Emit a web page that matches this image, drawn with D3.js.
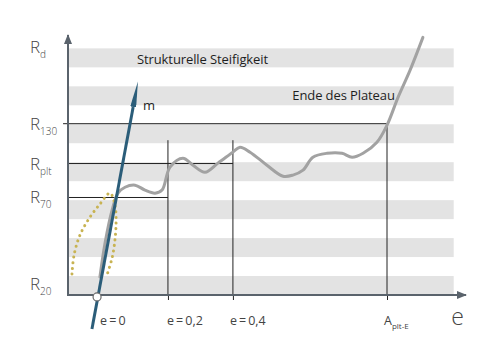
<!DOCTYPE html>
<html>
<head>
<meta charset="utf-8">
<script src="https://cdn.jsdelivr.net/npm/d3@7"></script>
<style>
  body { margin: 0; background: #fff; }
  svg { display: block; }
</style>
</head>
<body>
<svg></svg>
<script>
// grey bands (lower edge, in band units)
const bands = [0, 2, 4, 6, 8, 10, 12];

// y labels: name, subscript, level
const yLabels = ['R', 'R', 'R', 'R', 'R'];
const ySubs = ['d', '130', 'plt', '70', '20'];
const yLevels = [13.05, 9.03, 6.93, 5.14, 0.58];

// x ticks: label, subscript, position
const xLabels = ['e=0', 'e=0,2', 'e=0,4', 'A'];
const xSubs = ['', '', '', 'plt-E'];
const xPos = [1.53, 5.26, 8.68, 16.79];

// reference lines: R_130 to A, R_plt to e=0,4, R_70 to e=0,2
const hLevels = [9.03, 6.93, 5.14];
const hStart = [-0.26, 0, 0];
const hEnd = [16.79, 8.68, 5.26];
// verticals at e=0,2, e=0,4, A
const vPos = [5.26, 8.68, 16.79];
const vTop = [8.16, 8.16, 9.03];

// grey load curve
const curveX = [1.68, 1.95, 2.32, 2.63, 3.0, 3.53, 4.05, 4.58, 4.95, 5.37, 6.05, 6.58, 7.21, 7.89, 8.68, 9.05, 9.58, 10.47, 11.32, 11.84, 12.37, 12.89, 13.63, 14.42, 14.95, 15.53, 16.26, 16.79, 17.37, 18.0, 18.68];
const curveY = [0.95, 2.74, 4.47, 5.37, 5.68, 5.79, 5.53, 5.37, 5.53, 6.74, 7.21, 6.84, 6.47, 6.95, 7.53, 7.79, 7.53, 6.84, 6.26, 6.32, 6.58, 7.26, 7.47, 7.47, 7.26, 7.47, 8.05, 8.95, 10.42, 11.84, 13.58];

// dotted loop
const dotX = [0.21, 0.32, 0.63, 1.16, 1.68, 2.21, 2.47, 2.53, 2.47, 2.32, 2.05];
const dotY = [1.11, 2.11, 3.16, 4.11, 4.79, 5.37, 4.74, 3.84, 2.89, 1.95, 1.05];

// stiffness line m
const mX = [1.26, 3.68];
const mY = [-1.79, 11.26];

const W = 485, H = 351;
const svg = d3.select('svg').attr('width', W).attr('height', H);

const x = d3.scaleLinear().domain([0, 21]).range([68, 467]);
const y = d3.scaleLinear().domain([0, 13.6]).range([295, 37]);

const axisColor = '#5a636c';
const font = "'Open Sans', sans-serif";

// bands
svg.selectAll('.band')
  .data(bands)
  .enter().append('rect')
  .attr('class', 'band')
  .attr('x', x(0))
  .attr('y', d => y(d + 1))
  .attr('width', x(20.3) - x(0))
  .attr('height', d => y(d) - y(d + 1))
  .attr('fill', '#e3e3e3');

// horizontal reference lines
svg.selectAll('.hline')
  .data(hLevels)
  .enter().append('line')
  .attr('x1', (d, i) => x(hStart[i]))
  .attr('x2', (d, i) => x(hEnd[i]))
  .attr('y1', d => y(d))
  .attr('y2', d => y(d))
  .attr('stroke', '#222')
  .attr('stroke-width', 1);

// vertical reference lines
svg.selectAll('.vline')
  .data(vPos)
  .enter().append('line')
  .attr('x1', d => x(d))
  .attr('x2', d => x(d))
  .attr('y1', (d, i) => y(vTop[i]))
  .attr('y2', y(0))
  .attr('stroke', '#222')
  .attr('stroke-width', 1);

// axes
const defs = svg.append('defs');
defs.append('marker')
  .attr('id', 'arr')
  .attr('viewBox', '0 0 10 8')
  .attr('refX', 9).attr('refY', 4)
  .attr('markerWidth', 10).attr('markerHeight', 8)
  .attr('markerUnits', 'userSpaceOnUse')
  .attr('orient', 'auto')
  .append('path').attr('d', 'M0,0 L10,4 L0,8 Z').attr('fill', axisColor);

defs.append('marker')
  .attr('id', 'tip')
  .attr('viewBox', '0 0 26 6')
  .attr('refX', 0).attr('refY', 3)
  .attr('markerWidth', 26).attr('markerHeight', 6)
  .attr('markerUnits', 'userSpaceOnUse')
  .attr('orient', 'auto')
  .append('path').attr('d', 'M0,0 L26,3 L0,6 Z').attr('fill', '#2b5d79');

const xAxis = svg.append('g')
  .attr('transform', `translate(0, ${y(0)})`)
  .call(d3.axisBottom(x).tickValues(vPos).tickSize(5).tickFormat(''));
xAxis.select('.domain').remove();
xAxis.selectAll('line').attr('stroke', '#222');

svg.append('line')
  .attr('x1', x(0)).attr('x2', x(21) - 1)
  .attr('y1', y(0)).attr('y2', y(0))
  .attr('stroke', axisColor).attr('stroke-width', 2)
  .attr('marker-end', 'url(#arr)');

svg.append('line')
  .attr('x1', x(0)).attr('x2', x(0))
  .attr('y1', y(0) + 1).attr('y2', y(13.6) - 2)
  .attr('stroke', axisColor).attr('stroke-width', 2)
  .attr('marker-end', 'url(#arr)');

// grey curve
const pts = curveX.map((d, i) => [d, curveY[i]]);
svg.append('path')
  .datum(pts)
  .attr('fill', 'none')
  .attr('stroke', '#a2a2a2')
  .attr('stroke-width', 3)
  .attr('stroke-linecap', 'round')
  .attr('d', d3.line().x(d => x(d[0])).y(d => y(d[1])).curve(d3.curveCatmullRom.alpha(0.5)));

// dotted loop
const dots = dotX.map((d, i) => [d, dotY[i]]);
svg.append('path')
  .datum(dots)
  .attr('fill', 'none')
  .attr('stroke', '#c8b352')
  .attr('stroke-width', 3)
  .attr('stroke-linecap', 'round')
  .attr('stroke-dasharray', '0.1,5.5')
  .attr('d', d3.line().x(d => x(d[0])).y(d => y(d[1])).curve(d3.curveCatmullRom.alpha(0.5)));

// line m with needle tip
const mx1 = x(mX[0]), my1 = y(mY[0]), mx2 = x(mX[1]), my2 = y(mY[1]);
const mLen = Math.hypot(mx2 - mx1, my2 - my1);
const t = 1 - 26 / mLen;
svg.append('line')
  .attr('x1', mx1).attr('y1', my1)
  .attr('x2', mx1 + (mx2 - mx1) * t).attr('y2', my1 + (my2 - my1) * t)
  .attr('stroke', '#2b5d79')
  .attr('stroke-width', 3)
  .attr('marker-end', 'url(#tip)');

// e=0 circle
svg.append('circle')
  .attr('cx', x(xPos[0]))
  .attr('cy', y(-0.1))
  .attr('r', 4)
  .attr('fill', '#fff')
  .attr('stroke', '#6a6a6a')
  .attr('stroke-width', 1.2);

// y labels
const yl = svg.selectAll('.ylab')
  .data(yLabels)
  .enter().append('text')
  .attr('x', 30)
  .attr('y', (d, i) => y(yLevels[i]) + 6)
  .attr('font-family', font)
  .attr('font-weight', 300)
  .attr('font-size', 17)
  .attr('fill', '#444');
yl.append('tspan').text(d => d);
yl.append('tspan')
  .attr('dy', 5)
  .attr('font-size', 10)
  .text((d, i) => ySubs[i]);

// x labels
const labelDx = [3, -1, -3, -3];
const xl = svg.selectAll('.xlab')
  .data(xLabels)
  .enter().append('text')
  .attr('x', (d, i) => x(xPos[i]) + labelDx[i])
  .attr('y', 325)
  .attr('font-family', font)
  .attr('font-size', 12.5)
  .attr('fill', '#444');
xl.append('tspan').text(d => d.replace('=', '\u2009=\u2009'));
xl.append('tspan')
  .attr('dy', 4)
  .attr('font-size', 8)
  .text((d, i) => xSubs[i]);

svg.append('text')
  .attr('x', x(20.5))
  .attr('y', 325)
  .attr('text-anchor', 'middle')
  .attr('font-family', font)
  .attr('font-weight', 300)
  .attr('font-size', 23)
  .attr('fill', '#444')
  .text('e');

// annotations
svg.append('text')
  .attr('x', x(3.63)).attr('y', y(12.2))
  .attr('font-family', font)
  .attr('font-size', 13)
  .attr('letter-spacing', -0.1)
  .attr('fill', '#1e1e1e')
  .text('Strukturelle Steifigkeit');

svg.append('text')
  .attr('x', x(17.2)).attr('y', y(10.3))
  .attr('text-anchor', 'end')
  .attr('font-family', font)
  .attr('font-size', 13)
  .attr('letter-spacing', -0.1)
  .attr('fill', '#1e1e1e')
  .text('Ende des Plateau');

svg.append('text')
  .attr('x', x(3.95)).attr('y', y(9.74))
  .attr('font-family', font)
  .attr('font-size', 13)
  .attr('fill', '#1e1e1e')
  .text('m');
</script>
</body>
</html>
